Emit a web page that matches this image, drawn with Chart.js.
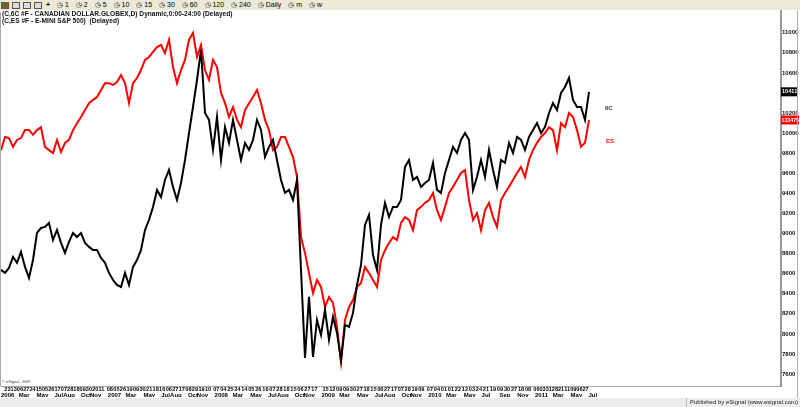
<!DOCTYPE html>
<html lang="en">
<head>
<meta charset="utf-8">
<title>6C / ES</title>
<script src="https://cdn.jsdelivr.net/npm/chart.js"></script>
<style>
  body { margin: 0; width: 800px; height: 407px; overflow: hidden; position: relative; background: #fff;
         font-family: 'Liberation Sans', Arial, sans-serif; }
  #bar { position: absolute; left: 0; top: 0; width: 800px; height: 10px; background: #ece9d8; z-index: 3;
         font-size: 7px; line-height: 10px; white-space: nowrap; color: #000; }
  #bar .ic { display: inline-block; width: 8px; height: 7px; vertical-align: middle; margin: 0 2px 0 1px;
             border: 1px solid #555; box-sizing: border-box; background: #ddd; }
  #bar .t { display: inline-block; margin-left: 7px; }
  .hdr { position: absolute; left: 2px; font-size: 6.6px; font-weight: bold; color: #111; z-index: 3; white-space: nowrap; }
  #strip { position: absolute; left: 0; top: 398px; width: 800px; height: 9px; background: #ececec; z-index: 0; }
  #pub { position: absolute; right: 2px; top: 398px; height: 9px; font-size: 6px; line-height: 9px; color: #222;
         border-left: 1px solid #bbb; padding-left: 3px; z-index: 3; }
  #edge { position: absolute; left: 797px; top: 10px; width: 1px; height: 388px; background: #b0b0b0; z-index: 3; }
  canvas { position: absolute; left: 0; top: 0; z-index: 1; }
</style>
</head>
<body>
<div id="bar"><span class="ic" style="background:#3a7d2c;border-color:#a33"></span><span class="ic"></span><span class="ic"></span><span class="ic"></span> <b>+</b><span class="t">◷ 1</span><span class="t">◷ 2</span><span class="t">◷ 5</span><span class="t">◷ 10</span><span class="t">◷ 15</span><span class="t">◷ 30</span><span class="t">◷ 60</span><span class="t">◷ 120</span><span class="t">◷ 240</span><span class="t">◷ Daily</span><span class="t">◷ m</span><span class="t">◷ w</span></div>
<div class="hdr" style="top:10px">(C,6C #F - CANADIAN DOLLAR.GLOBEX,D) Dynamic,0:00-24:00 (Delayed)</div>
<div class="hdr" style="top:17px">(C,ES #F - E-MINI S&amp;P 500)&nbsp; (Delayed)</div>
<div id="strip"></div>
<div id="pub">Published by eSignal (www.esignal.com)</div>
<div id="edge"></div>
<canvas id="chart" width="800" height="407"></canvas>
<script>
// 6C (Canadian dollar, x10000) - roughly two-week steps from Jan 2006 to Jul 2011
const cad = [
  8637, 8607, 8657, 8766, 8707, 8816, 8667, 8557, 8736, 9005, 9055, 9065, 9105, 8936, 9035, 8906,
  8806, 8916, 9005, 8965, 9005, 8906, 8866, 8836, 8836, 8756, 8707, 8607, 8537, 8487, 8467, 8607,
  8487, 8667, 8736, 8836, 9035, 9135, 9264, 9434, 9364, 9533, 9633, 9464, 9334, 9503, 9732, 10001,
  10260, 10529, 10828, 10200, 10131, 9832, 10161, 9732, 10061, 9902, 10131, 9932, 9732, 9902, 9832, 9932,
  10131, 10031, 9762, 9862, 9932, 9732, 9533, 9404, 9434, 9334, 9533, 8637, 7760, 8368, 7770, 8139,
  7989, 8238, 7940, 8169, 8009, 7740, 8089, 8069, 8208, 8487, 8687, 9085, 9185, 8786, 8637, 9085,
  9304, 9165, 9264, 9264, 9334, 9663, 9732, 9533, 9563, 9464, 9503, 9533, 9703, 9434, 9404, 9603,
  9732, 9862, 9802, 9932, 10001, 9932, 9434, 9563, 9732, 9563, 9832, 9633, 9464, 9732, 9703, 9902,
  9802, 9962, 9932, 9832, 9962, 10031, 10101, 10001, 10061, 10200, 10300, 10230, 10400, 10459, 10549, 10330,
  10260, 10260, 10131, 10411
];
// ES (E-mini S&P 500) on the same dates
const es = [
  1252, 1288, 1285, 1261, 1280, 1285, 1307, 1307, 1294, 1307, 1315, 1261, 1252, 1244, 1280, 1247,
  1272, 1280, 1307, 1326, 1343, 1362, 1381, 1390, 1398, 1417, 1436, 1436, 1431, 1439, 1458, 1436,
  1381, 1436, 1450, 1472, 1500, 1508, 1522, 1535, 1541, 1519, 1555, 1480, 1436, 1472, 1500, 1555,
  1574, 1508, 1541, 1472, 1445, 1500, 1480, 1409, 1381, 1343, 1370, 1335, 1315, 1362, 1381, 1398,
  1417, 1381, 1335, 1307, 1252, 1261, 1288, 1288, 1261, 1233, 1178, 1013, 969, 914, 859, 895,
  876, 821, 848, 832, 766, 670, 785, 821, 840, 876, 887, 931, 914, 895, 876, 950,
  977, 997, 1013, 1005, 1052, 1068, 1060, 1032, 1087, 1096, 1107, 1115, 1134, 1087, 1060, 1096,
  1134, 1151, 1170, 1189, 1197, 1115, 1060, 1079, 1032, 1087, 1107, 1068, 1041, 1115, 1134, 1151,
  1170, 1189, 1206, 1178, 1225, 1252, 1272, 1288, 1299, 1315, 1307, 1252, 1326, 1315, 1354, 1343,
  1307, 1261, 1272, 1334.75
];

// slots on the time axis (data plus empty space to the right)
const slotCount = 196;
const slots = Array.from({length: slotCount}, (_, i) => i);
const slotsPerYear = 26.7;

const days2006 = ['23','13','06','27','24','15','05','26','17','07','28','18','09','30','20','11'];
const days2007 = ['08','05','26','19','09','30','21','18','16','06','27','17','08','29','19','10'];
const days2008 = ['07','04','25','24','14','05','26','16','07','28','18','15','06','27','17'];
const days2009 = ['15','12','09','09','30','27','18','15','06','27','17','07','28','19','09'];
const days2010 = ['07','04','01','01','22','12','03','24','21','19','09','30','27','18','08'];
const days2011 = ['06','03','31','28','21','11','09','06','27'];
const monthLabels = ['2006','Mar','May','Jul','Aug','Oct','Nov',
                     '2007','Mar','May','Jul','Aug','Oct','Nov',
                     '2008','Mar','May','Jul','Aug','Oct','Nov',
                     '2009','Mar','May','Jul','Aug','Oct','Nov',
                     '2010','Mar','May','Jul','Sep','Nov',
                     '2011','Mar','May','Jul'];

const monthNum = {Jan:0,Feb:1,Mar:2,Apr:3,May:4,Jun:5,Jul:6,Aug:7,Sep:8,Oct:9,Nov:10,Dec:11};

// positions of the date ticks (in slot units)
const dayText = [], dayPos = [];
[days2006, days2007, days2008, days2009, days2010, days2011].forEach((list, yi) => {
  const first = parseInt(list[0], 10) - 1;
  const step = list.length < 12 ? 21 : (365 - first) / list.length;
  list.forEach((d, j) => {
    dayText.push(d);
    dayPos.push(yi * slotsPerYear + (first + j * step) / 365 * slotsPerYear);
  });
});
const monthPos = [];
let yr = -1;
monthLabels.forEach(m => {
  if (/^\d{4}$/.test(m)) { yr++; monthPos.push(yr * slotsPerYear); }
  else monthPos.push(yr * slotsPerYear + monthNum[m] / 12 * slotsPerYear);
});

const decor = {
  id: 'decor',
  afterDraw(chart) {
    const {ctx, chartArea: a, scales} = chart;
    ctx.save();
    ctx.strokeStyle = '#a8a8a8';
    ctx.lineWidth = 1;
    ctx.beginPath();
    ctx.moveTo(0.5, a.top); ctx.lineTo(0.5, a.bottom + 0.5); ctx.lineTo(a.right, a.bottom + 0.5);
    ctx.stroke();
    ctx.strokeStyle = '#999';
    ctx.lineWidth = 2;
    ctx.beginPath(); ctx.moveTo(a.right, 10); ctx.lineTo(a.right, a.bottom + 1); ctx.stroke();

    const last = cad.length - 1;
    const yc = scales.y.getPixelForValue(cad[last]);
    const ye = scales.y2.getPixelForValue(es[last]);
    ctx.font = 'bold 5.6px "Liberation Sans", Arial';
    ctx.textBaseline = 'middle';
    ctx.fillStyle = '#000';
    ctx.fillRect(a.right, yc - 4.5, 16, 9);
    ctx.fillStyle = '#ff0000';
    ctx.fillRect(a.right, ye - 4.5, 18, 9);
    ctx.fillStyle = '#fff';
    ctx.textAlign = 'left';
    ctx.fillText(String(cad[last]), a.right + 1, yc);
    ctx.fillText(es[last].toFixed(2).replace('.', ''), a.right + 0.5, ye, 17.5);

    const xl = scales.x.getPixelForValue(last + 4);
    ctx.font = 'bold 6px "Liberation Sans", Arial';
    ctx.fillStyle = '#333';
    ctx.fillText('6C', xl, yc + 17);
    ctx.fillStyle = '#ff0000';
    ctx.fillText('ES', xl + 1, ye + 21);

    ctx.fillStyle = '#444';
    ctx.font = '4px "Liberation Sans", Arial';
    ctx.fillText('© eSignal, 2009', 2, a.bottom - 4);
    ctx.restore();
  }
};

new Chart(document.getElementById('chart'), {
  type: 'line',
  data: {
    labels: slots,
    datasets: [
      { label: '6C', data: cad, yAxisID: 'y', borderColor: '#000', borderWidth: 2, pointRadius: 0, tension: 0 },
      { label: 'ES', data: es, yAxisID: 'y2', borderColor: '#ff0000', borderWidth: 2, pointRadius: 0, tension: 0 }
    ]
  },
  options: {
    responsive: false,
    animation: false,
    layout: { padding: { left: 1, top: 12, right: 0, bottom: 10 } },
    plugins: { legend: { display: false }, tooltip: { enabled: false } },
    scales: {
      x: { type: 'category', display: false },
      xd: {
        type: 'linear', position: 'bottom', min: 0, max: slotCount - 1, weight: 1,
        grid: { display: false, drawTicks: false }, border: { display: false },
        afterBuildTicks: s => { s.ticks = dayPos.map(v => ({ value: v })); },
        afterFit: s => { s.height = 5; },
        ticks: { autoSkip: false, maxRotation: 0, minRotation: 0, padding: 0, color: '#000',
                 font: { size: 5.6, weight: 'bold', family: '"Liberation Sans", Arial' },
                 callback: (v, i) => dayText[i] }
      },
      xm: {
        type: 'linear', position: 'bottom', min: 0, max: slotCount - 1, weight: 2,
        grid: { display: false, drawTicks: false }, border: { display: false },
        afterBuildTicks: s => { s.ticks = monthPos.map(v => ({ value: v })); },
        afterFit: s => { s.height = 6; },
        ticks: { autoSkip: false, maxRotation: 0, minRotation: 0, padding: 1, align: 'start', color: '#000',
                 font: { size: 6, weight: 'bold', family: '"Liberation Sans", Arial' },
                 callback: (v, i) => monthLabels[i] }
      },
      y: {
        position: 'right', min: 7480.5, max: 11206.2,
        grid: { display: false, drawTicks: false }, border: { display: false },
        afterFit: s => { s.width = 19; },
        ticks: { stepSize: 200, includeBounds: false, padding: 1, color: '#111',
                 font: { size: 6, weight: 'bold', family: '"Liberation Sans", Arial' },
                 callback: v => (v > 11000 || v === 10400) ? '' : String(v) }
      },
      y2: { display: false, min: 603.8, max: 1631.5 }
    }
  },
  plugins: [decor]
});
</script>
</body>
</html>
